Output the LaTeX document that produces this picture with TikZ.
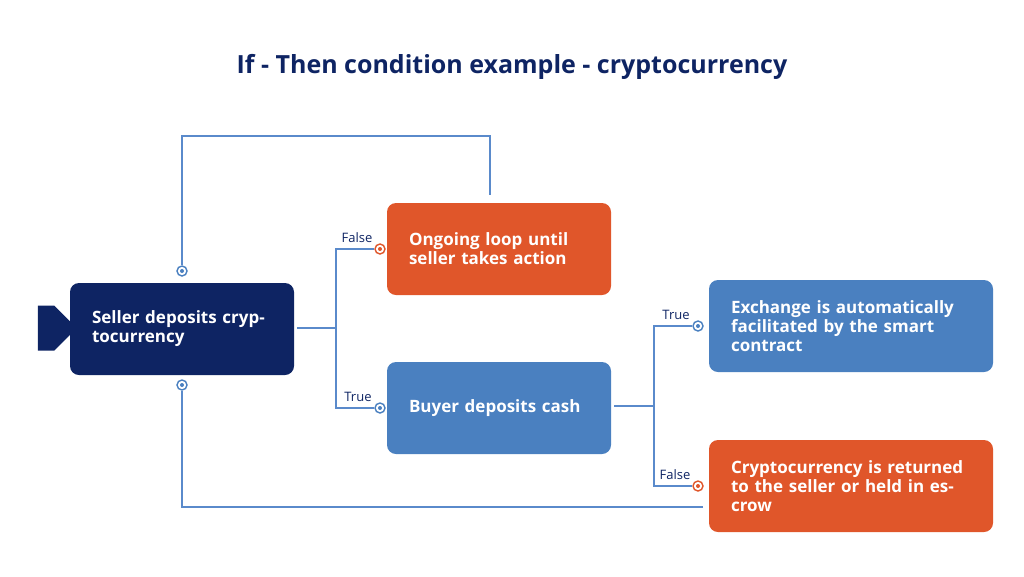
\documentclass[tikz,border=0pt]{standalone}
\usepackage{fontspec}
\setmainfont{Open Sans}
\usetikzlibrary{positioning,shapes.arrows}
\definecolor{navy}{HTML}{0E2463}
\definecolor{tangerine}{HTML}{E0562A}
\definecolor{steel}{HTML}{4A80C0}
\definecolor{wire}{HTML}{5A8ACB}
\tikzset{
  box/.style={rounded corners=9pt,minimum width=216pt,minimum height=92pt,
    text width=180pt,align=left,text=white,font=\fontsize{17}{19}\selectfont\bfseries,inner xsep=22pt},
  wide/.style={box,minimum width=282pt,text width=240pt},
  link/.style={draw=wire,line width=1.6pt},
  tag/.style={text=navy,font=\fontsize{13}{15}\selectfont,anchor=south},
  ring/.style={circle,draw=#1,line width=1.4pt,fill=white,inner sep=0pt,minimum size=10pt,
    path picture={\fill[#1] (path picture bounding box.center) circle (2pt);}}
}
\begin{document}
\begin{tikzpicture}[x=1pt,y=-1pt]
\useasboundingbox (0,0) rectangle (1024,576);
\node[font=\fontsize{25}{28}\selectfont\bfseries,text=navy] (title) at (512,67) {If - Then condition example - cryptocurrency};

% boxes
\node[box,fill=navy] (seller) at (182,329) {Seller deposits cryptocurrency};
\node[box,fill=tangerine] (loop) at (499,249) {Ongoing loop until seller takes action};
\node[box,fill=steel] (buyer) at (499,408) {Buyer deposits cash};
\node[wide,fill=steel] (swap) at (851,326) {Exchange is automatically facilitated by the smart contract};
\node[wide,fill=tangerine] (escrow) at (851,486) {Cryptocurrency is returned to the seller or held in escrow};
\node[single arrow,fill=navy,minimum height=39pt,minimum width=45pt,single arrow head extend=0pt,
  inner sep=0pt,shape border uses incircle] (start) at (46,328) {};

% markers
\node[ring=tangerine] (m1) at (380,249) {};
\node[ring=steel] (m2) at (380,408) {};
\node[ring=steel] (m3) at (698,326) {};
\node[ring=tangerine] (m4) at (698,486) {};
\node[ring=steel] (m5) at (182,271) {};
\node[ring=steel] (m6) at (182,385) {};

% connectors
\coordinate (s0) at (297,328);
\coordinate (b0) at (614,406);
\draw[link] (s0) -- (336,328);
\draw[link] (m1) -| (336,408) -- (m2);
\draw[link] (b0) -- (654,406);
\draw[link] (m3) -| (654,486) -- (m4);
\draw[link] (loop.north) ++(-9,-8) |- (182,136) -- (m5);
\draw[link] (703,507) -| (m6);

\node[tag] at (357,246) {False};
\node[tag] at (358,405) {True};
\node[tag] at (676,323) {True};
\node[tag] at (675,483) {False};
\end{tikzpicture}
\end{document}
